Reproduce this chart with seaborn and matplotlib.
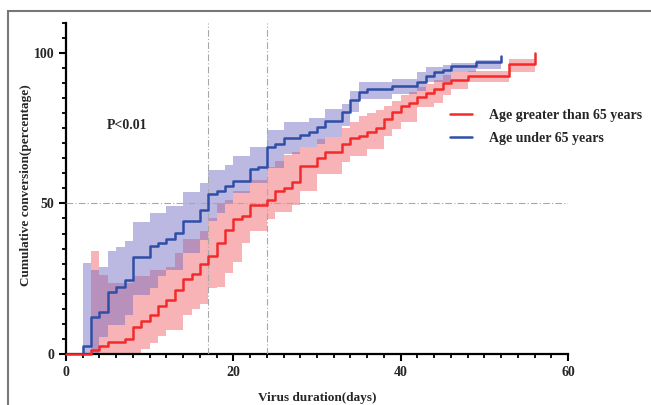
import numpy as np
import pandas as pd
import seaborn as sns
import matplotlib.pyplot as plt
from matplotlib.patches import Rectangle

# Kaplan-Meier style cumulative conversion
old_days = [0, 3, 4, 5, 7, 8, 9, 10, 11, 12, 13, 14, 15, 16, 17, 18, 19, 20, 21, 22,
            24, 25, 26, 27, 28, 30, 31, 33, 34, 35, 36, 37, 38, 39, 40, 41, 42, 43, 44,
            45, 46, 48, 53, 56]
old_conv = [0, 1.3, 2.7, 4.1, 4.9, 9.1, 10.8, 13.0, 15.8, 18.0, 21.1, 24.9, 26.7, 30.0,
            32.7, 36.9, 41.1, 44.7, 45.8, 49.4, 51.1, 54.1, 55.2, 57.1, 62.4, 65.2, 67.0,
            69.7, 71.6, 72.4, 73.8, 74.9, 78.0, 80.2, 82.4, 83.3, 85.2, 86.7, 88.0, 89.9,
            91.1, 92.2, 96.3, 100]
old_upper = [0, 34.1, 26.3, 23.6, 23.6, 25.8, 25.8, 28, 28, 29, 33.6, 38.2, 38.2, 40.8,
             45, 50, 51.3, 54.1, 54.1, 57.8, 62, 64, 66, 67, 68.6, 71.3, 72, 75.2, 77, 79,
             80, 81, 82.5, 84, 86, 87, 88.5, 89.5, 91, 92.5, 93.6, 94.1, 98, 100]
old_lower = [0, 0, 0, 0, 0, 0, 1.5, 3.5, 6, 8, 8, 13, 15, 16.5, 21.9, 22.4, 26.9, 30.4,
             36.7, 40.8, 44.7, 47.2, 47.2, 49.4, 54.1, 59.7, 59.7, 63.6, 65.8, 65.8, 68,
             68, 72.4, 74.7, 77, 77, 81.9, 81.9, 83.5, 86, 88, 90.2, 93.6, 100]

young_days = [2, 2, 3, 4, 5, 6, 7, 8, 10, 11, 12, 13, 14, 16, 17, 18, 19, 20, 22, 23, 24,
              25, 26, 28, 29, 30, 31, 33, 34, 35, 36, 39, 42, 43, 44, 45, 46, 49, 52]
young_conv = [0, 2.7, 12.2, 13.8, 20.6, 22.2, 24.7, 32.2, 35.8, 36.9, 38.3, 40.2, 44.3,
              47.8, 53.0, 54.1, 55.8, 57.4, 61.3, 62.2, 68.6, 69.7, 71.7, 72.7, 73.8, 75.4,
              77.4, 80.2, 84.2, 86.9, 88.0, 89.1, 90.4, 92.2, 93.6, 94.4, 95.6, 97.1, 99.1]
young_upper = [30.2, 30.2, 28, 29, 34.1, 35.6, 37.4, 43.8, 46.7, 46.7, 49.1, 49.1, 53.8,
               56.7, 61.1, 61.1, 62.7, 65.6, 68.6, 68.6, 74.4, 74.4, 76.9, 76.9, 78.2, 78.2,
               81.3, 83, 87.4, 90.2, 90.2, 91.3, 93.6, 95.2, 95.2, 95.8, 96.7, 97.6, 99.1]
young_lower = [0, 0, 0, 5.8, 9.7, 9.7, 13, 19.7, 22, 25.8, 28, 28, 33.6, 38, 44.1, 46.7,
               49.7, 53.6, 56.9, 56.9, 61.9, 61.9, 66.3, 68.6, 68.6, 69.7, 71.9, 75.8, 80.2,
               84.7, 84.7, 86.3, 87.4, 90.2, 90.2, 90.2, 93.6, 94.7, 97]

labels = ["Age greater than 65 years", "Age under 65 years"]
red = "#f42a2a"
blue = "#2f4fa6"

sns.set_style("ticks")
plt.rcParams["font.family"] = ["Liberation Serif", "DejaVu Serif"]
plt.rcParams["font.weight"] = "bold"

old = pd.DataFrame({"days": old_days, "conv": old_conv})
young = pd.DataFrame({"days": young_days, "conv": young_conv})

fig = plt.figure(figsize=(6.51, 4.05), dpi=100)
ax = fig.add_axes([0.1014, 0.1259, 0.7711, 0.818])

# confidence bands
ax.fill_between(old_days, old_lower, old_upper, step="post", color="#f7b3b6", lw=0, zorder=1)
ax.fill_between(young_days, young_lower, young_upper, step="post", color="#726bc4",
                alpha=0.48, lw=0, zorder=2)

# reference lines
ref_style = dict(color="#a8a8a8", lw=0.8, ls=(0, (6, 2, 1, 2)), zorder=3)
for xv in [17, 24]:
    ax.axvline(xv, **ref_style)
ax.axhline(50, **ref_style)

sns.lineplot(data=old, x="days", y="conv", ax=ax, color=red, lw=1.8,
             drawstyle="steps-post", estimator=None, sort=False, label=labels[0],
             zorder=5, clip_on=False)
sns.lineplot(data=young, x="days", y="conv", ax=ax, color=blue, lw=1.8,
             drawstyle="steps-post", estimator=None, sort=False, label=labels[1],
             zorder=6)

ax.set_xlim(0, 60)
ax.set_ylim(0, 110)
ax.set_xticks([0, 20, 40, 60])
ax.set_xticks(np.arange(0, 61, 2), minor=True)
ax.set_yticks([0, 50, 100])
ax.set_yticks(np.arange(0, 111, 5), minor=True)
ax.tick_params(which="major", length=5, width=1.5, labelsize=10, color="black")
ax.tick_params(which="minor", length=3, width=1.3, color="black")
for lab in ax.get_xticklabels() + ax.get_yticklabels():
    lab.set_fontweight("bold")
sns.despine(ax=ax)
for s in ["left", "bottom"]:
    ax.spines[s].set_linewidth(1.6)
    ax.spines[s].set_color("black")

ax.set_xlabel("Virus duration(days)", fontsize=9.5, fontweight="bold")
ax.set_ylabel("Cumulative conversion(percentage)", fontsize=9.5, fontweight="bold")
ax.xaxis.set_label_coords(0.5, -0.115)
ax.yaxis.set_label_coords(-0.068, 0.51)

ax.text(7.3, 76, "P<0.01", fontsize=10, fontweight="bold", ha="center", va="center")

ax.legend(loc="upper left", bbox_to_anchor=(0.765, 0.74), frameon=False,
          prop={"weight": "bold", "size": 10}, handlelength=1.6, handletextpad=1.2,
          labelspacing=0.7, borderpad=0, borderaxespad=0)

# outer frame of the figure panel
fig.patches.append(Rectangle((8 / 651, -0.1), 1.2, 1.1 - 11 / 405, transform=fig.transFigure,
                             fill=False, edgecolor="#777777", lw=1.5))

fig.savefig("out.png", dpi=100)
